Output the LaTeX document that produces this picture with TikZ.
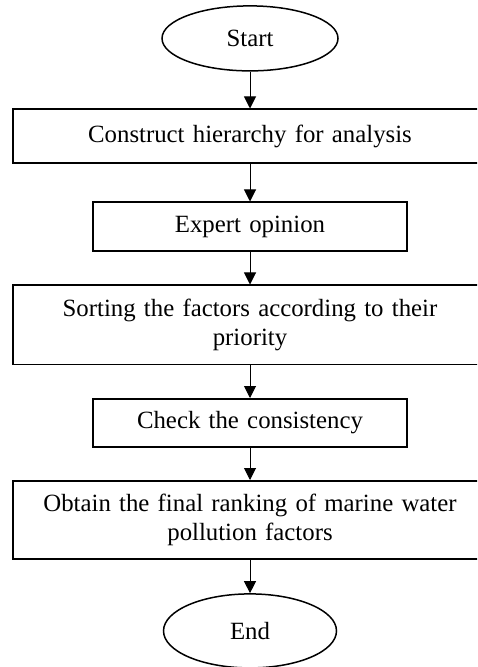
\documentclass[tikz,border=0pt]{standalone}
\usepackage{fontspec}
\setmainfont{Liberation Serif}
\usetikzlibrary{shapes,arrows.meta,positioning}

\begin{document}
\begin{tikzpicture}[node distance=49pt, font=\fontsize{12.4}{14.2}\selectfont]
    \tikzstyle{term} = [ellipse, draw, line width=0.75pt, inner sep=0pt, minimum width=88pt, minimum height=32.5pt]
    \tikzstyle{wide} = [rectangle, draw, line width=0.9pt, text width=225pt, align=center, minimum width=237pt, minimum height=27pt, inner sep=0pt]
    \tikzstyle{narrow} = [rectangle, draw, line width=0.9pt, text width=150pt, align=center, minimum width=157pt, minimum height=24.5pt, inner sep=0pt]
    \tikzstyle{arrow} = [line width=0.5pt, -{Triangle[width=6pt,length=6pt]}]

    \useasboundingbox (0,0) rectangle (238.5pt,-333.5pt);
    \clip (0,0) rectangle (238.5pt,-333.5pt);

    \node[term] (start) at (125pt,-19.2pt) {Start};

    \node[wide, below of=start] (hierarchy) {Construct hierarchy for analysis};

    \node[narrow, below of=hierarchy, node distance=45.25pt] (expert) {Expert opinion};

    \node[wide, below of=expert, minimum height=39.5pt] (sorting) {
        Sorting the factors according to their\\
        priority
    };

    \node[narrow, below of=sorting, minimum height=24pt] (check) {Check the consistency};

    \node[wide, below of=check, minimum height=39pt, node distance=48.5pt] (ranking) {
        Obtain the final ranking of marine water\\
        pollution factors
    };

    \node[term, below of=ranking, node distance=55.5pt, minimum width=86.5pt, minimum height=37pt] (end) {End};

    \draw[arrow] (start) -- (hierarchy);
    \draw[arrow] (hierarchy) -- (expert);
    \draw[arrow] (expert) -- (sorting);
    \draw[arrow] (sorting) -- (check);
    \draw[arrow] (check) -- (ranking);
    \draw[arrow] (ranking) -- (end);
\end{tikzpicture}
\end{document}
